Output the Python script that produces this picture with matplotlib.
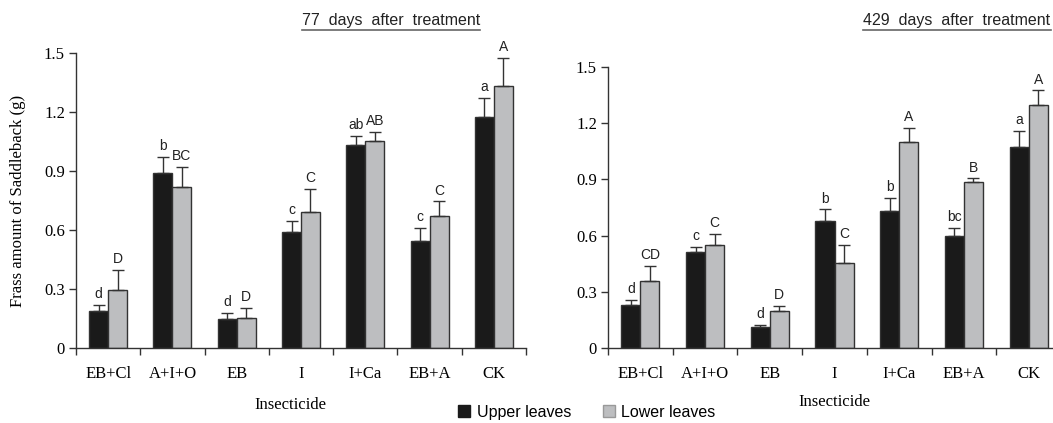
import matplotlib
matplotlib.use("Agg")
import matplotlib.pyplot as plt
from matplotlib.lines import Line2D
from matplotlib.patches import Patch
import numpy as np

categories = ["EB+Cl", "A+I+O", "EB", "I", "I+Ca", "EB+A", "CK"]

# 77 days after treatment
upper_77 = [0.19, 0.89, 0.148, 0.59, 1.03, 0.545, 1.175]
upper_77_se = [0.03, 0.08, 0.03, 0.055, 0.05, 0.065, 0.095]
lower_77 = [0.295, 0.82, 0.153, 0.69, 1.05, 0.67, 1.33]
lower_77_se = [0.10, 0.10, 0.05, 0.12, 0.05, 0.075, 0.145]
upper_77_grp = ["d", "b", "d", "c", "ab", "c", "a"]
lower_77_grp = ["D", "BC", "D", "C", "AB", "C", "A"]

# 429 days after treatment
upper_429 = [0.23, 0.51, 0.11, 0.68, 0.73, 0.60, 1.075]
upper_429_se = [0.025, 0.03, 0.015, 0.06, 0.07, 0.04, 0.085]
lower_429 = [0.36, 0.55, 0.20, 0.455, 1.10, 0.885, 1.295]
lower_429_se = [0.08, 0.06, 0.025, 0.095, 0.075, 0.02, 0.08]
upper_429_grp = ["d", "c", "d", "b", "b", "bc", "a"]
lower_429_grp = ["CD", "C", "D", "C", "A", "B", "A"]

yticks = [0, 0.3, 0.6, 0.9, 1.2, 1.5]
ytick_labels = ["0", "0.3", "0.6", "0.9", "1.2", "1.5"]

BLACK = "#1a1a1a"
GREY = "#bdbec0"
EDGE = "#333333"
SERIF = "Liberation Serif"
SANS = "Liberation Sans"

W, H = 1053, 423
fig = plt.figure(figsize=(W / 100, H / 100), dpi=100)


def panel(rect, up, up_se, lo, lo_se, up_g, lo_g, title, title_x, xlab_x):
    ax = fig.add_axes(rect)
    x = np.arange(len(categories))
    bw = 0.295
    ax.bar(x - bw / 2, up, bw, color=BLACK, edgecolor=EDGE, linewidth=1.0, zorder=2)
    ax.bar(x + bw / 2, lo, bw, color=GREY, edgecolor=EDGE, linewidth=1.0, zorder=2)
    for xs, vals, se in ((x - bw / 2, up, up_se), (x + bw / 2, lo, lo_se)):
        ax.errorbar(xs, vals, yerr=[np.zeros(len(se)), se], fmt="none",
                    ecolor=EDGE, elinewidth=1.0, capsize=4, capthick=1.0, zorder=3)
    for i in range(len(categories)):
        ax.text(x[i] - bw / 2, up[i] + up_se[i] + 0.02, up_g[i], ha="center",
                va="bottom", fontsize=10, family=SANS, color="#222222")
        ax.text(x[i] + bw / 2, lo[i] + lo_se[i] + 0.02, lo_g[i], ha="center",
                va="bottom", fontsize=10, family=SANS, color="#222222")
    ax.set_xlim(-0.5, len(categories) - 0.5)
    ax.set_ylim(0, 1.5)
    ax.set_yticks(yticks)
    ax.set_yticklabels(ytick_labels, family=SERIF, fontsize=12)
    ax.set_xticks(x)
    ax.set_xticklabels(categories, family=SERIF, fontsize=12)
    ax.set_xticks(np.arange(-0.5, len(categories), 1.0), minor=True)
    ax.tick_params(axis="x", which="major", length=0, pad=13)
    ax.tick_params(axis="x", which="minor", length=5, width=1, color=EDGE)
    ax.tick_params(axis="y", length=5, width=1, color=EDGE, pad=3)
    for s in ("top", "right"):
        ax.spines[s].set_visible(False)
    for s in ("left", "bottom"):
        ax.spines[s].set_color(EDGE)
        ax.spines[s].set_linewidth(1.0)
    ax.set_xlabel("Insecticide", family=SERIF, fontsize=12)
    ax.xaxis.set_label_coords(xlab_x, -0.165)
    # underlined panel title
    t = fig.text(title_x / W, 1 - 20 / H, title, ha="center", va="center",
                 fontsize=11.5, family=SANS, color="#222222")
    fig.canvas.draw()
    bb = t.get_window_extent()
    yline = (bb.y0 - 2.5) / H
    fig.add_artist(Line2D([bb.x0 / W, bb.x1 / W], [yline, yline],
                          color="#666666", linewidth=1.2))
    return ax


axL = panel([76 / W, 75 / H, 450 / W, 295 / H], upper_77, upper_77_se, lower_77,
            lower_77_se, upper_77_grp, lower_77_grp,
            "77  days  after  treatment", 391, 0.476)
axL.set_ylabel("Frass amount of Saddleback (g)", family=SERIF, fontsize=12)
axL.yaxis.set_label_coords(-50 / 450, 0.5)

axR = panel([608 / W, 75 / H, 453 / W, 281 / H], upper_429, upper_429_se, lower_429,
            lower_429_se, upper_429_grp, lower_429_grp,
            "429  days  after  treatment", 957, 0.5)

handles = [Patch(facecolor=BLACK, edgecolor=BLACK, label="Upper leaves"),
           Patch(facecolor=GREY, edgecolor="#999999", label="Lower leaves")]
fig.legend(handles=handles, loc="center", bbox_to_anchor=(587 / W, 11 / H), ncol=2,
           frameon=False, prop={"family": SANS, "size": 11.5}, handlelength=0.75,
           handleheight=0.75, handletextpad=0.4, columnspacing=2.0)

fig.savefig("out.png", dpi=100)
